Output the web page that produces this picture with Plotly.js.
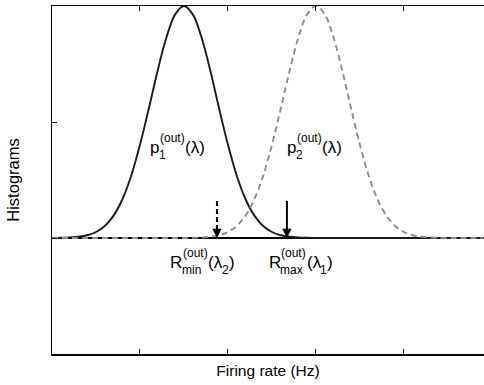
<!DOCTYPE html>
<html>
<head>
<meta charset="utf-8">
<script src="https://cdn.plot.ly/plotly-3.0.1.min.js"></script>
<style>html,body{margin:0;padding:0;background:#fff;}#chart{width:484px;height:385px;}</style>
</head>
<body>
<div id="chart"></div>
<script>
// Firing-rate grid (Hz) and the two output histograms
const rate = [0,1,2,3,4,5,6,7,8,9,10,11,12,13,14,15,16,17,18,19,20,21,22,23,24,25,26,27,28,29,30,31,32,33,34,35,36,37,38,39,40,41,42,43,44,45,46,47,48,49];
const hist1 = [0.0005,0.0016,0.0042,0.0104,0.024,0.052,0.104,0.193,0.334,0.537,0.803,1.115,1.440,1.728,1.928,2.0,1.928,1.728,1.440,1.115,0.803,0.537,0.334,0.193,0.104,0.052,0.024,0.0104,0.0042,0.0016,0.0005,0,0,0,0,0,0,0,0,0,0,0,0,0,0,0,0,0,0,0];
const hist2 = [0,0,0,0,0,0,0,0,0,0,0,0,0,0,0,0.0005,0.0016,0.0042,0.0104,0.024,0.052,0.104,0.193,0.334,0.537,0.803,1.115,1.440,1.728,1.928,2.0,1.928,1.728,1.440,1.115,0.803,0.537,0.334,0.193,0.104,0.052,0.024,0.0104,0.0042,0.0016,0.0005,0,0,0,0];
// arrow markers: R_min(λ2) (dashed) and R_max(λ1) (solid)
const arrowX = [18.75, 26.7];
const arrowTop = [0.32, 0.32];
const arrowDash = ['5px,3px', 'solid'];
// curve / threshold labels
const labelX = [11.0, 26.6, 13.35, 24.5];
const labelY = [0.78, 0.78, -0.215, -0.215];
const labelParts = [
  [['p'], ['(out)', '1'], ['(λ)']],
  [['p'], ['(out)', '2'], ['(λ)']],
  [['R'], ['(out)', 'min'], ['(λ'], [null, '2'], [')']],
  [['R'], ['(out)', 'max'], ['(λ'], [null, '1'], [')']]
];
const xTicks = [10, 20, 30, 40];
const yTicks = [-1, 0, 1, 2];

const FONT = 'Liberation Sans, Arial, Helvetica, sans-serif';
const MAIN = 17, SCRIPT = 12;
const ctx = document.createElement('canvas').getContext('2d');
function w(t, s) { ctx.font = s + 'px "Liberation Sans", Arial, sans-serif'; return ctx.measureText(t).width; }

const traces = [
  {x: rate, y: hist1, mode: 'lines', line: {color: '#1c1c1c', width: 1.9, shape: 'spline'}, hoverinfo: 'skip'},
  {x: rate, y: hist2, mode: 'lines', line: {color: '#8c8c8c', width: 1.9, dash: '6px,4px', shape: 'spline'}, hoverinfo: 'skip'}
];
const annotations = [];
arrowX.forEach((ax, i) => {
  traces.push({x: [ax, ax], y: [arrowTop[i], 0.06], mode: 'lines',
    line: {color: '#000', width: 2, dash: arrowDash[i]}, hoverinfo: 'skip'});
  annotations.push({x: ax, y: 0, xref: 'x', yref: 'y', showarrow: true, ax: 0, ay: -10,
    arrowhead: 2, arrowsize: 1.1, arrowwidth: 1.7, arrowcolor: '#000', text: ''});
});

labelParts.forEach((parts, k) => {
  let cur = -1;
  parts.forEach(p => {
    if (p.length === 1) {
      annotations.push({x: labelX[k], y: labelY[k], xref: 'x', yref: 'y', xanchor: 'left', yanchor: 'middle',
        xshift: cur, yshift: 0, showarrow: false, text: p[0], font: {family: FONT, size: MAIN, color: '#000'}});
      cur += w(p[0], MAIN);
    } else {
      let ws = 0, wb = 0;
      if (p[0]) {
        annotations.push({x: labelX[k], y: labelY[k], xref: 'x', yref: 'y', xanchor: 'left', yanchor: 'middle',
          xshift: cur + 0.5, yshift: 9.5, showarrow: false, text: p[0], font: {family: FONT, size: SCRIPT, color: '#000'}});
        ws = w(p[0], SCRIPT) + 0.5;
      }
      if (p[1]) {
        annotations.push({x: labelX[k], y: labelY[k], xref: 'x', yref: 'y', xanchor: 'left', yanchor: 'middle',
          xshift: cur - 0.5, yshift: -7.5, showarrow: false, text: p[1], font: {family: FONT, size: SCRIPT, color: '#000'}});
        wb = w(p[1], SCRIPT) - 0.5;
      }
      cur += Math.max(ws, wb) + 0.5;
    }
  });
});

const layout = {
  width: 484, height: 385,
  margin: {l: 52, r: 0, t: 6, b: 31, pad: 0},
  paper_bgcolor: '#fff', plot_bgcolor: '#fff',
  showlegend: false,
  font: {family: FONT, color: '#000'},
  xaxis: {range: [0, 49.1], tickvals: xTicks, showticklabels: false, ticks: 'inside', ticklen: 5,
    tickcolor: '#000', tickwidth: 1, showline: true, linecolor: '#000', linewidth: 1.5, mirror: 'ticks',
    showgrid: false, zeroline: false,
    title: {text: 'Firing rate (Hz)', font: {family: FONT, size: 15.5, color: '#000'}, standoff: 10}},
  yaxis: {range: [-1, 2], tickvals: yTicks, showticklabels: false, ticks: 'inside', ticklen: 5,
    tickcolor: '#000', tickwidth: 1, showline: true, linecolor: '#000', linewidth: 1.5, mirror: false,
    showgrid: false, zeroline: true, zerolinecolor: '#000', zerolinewidth: 1.5,
    title: {text: 'Histograms', font: {family: FONT, size: 16.5, color: '#000'}, standoff: 26}},
  annotations: annotations
};
Plotly.newPlot('chart', traces, layout, {staticPlot: true, displayModeBar: false});
</script>
</body>
</html>
